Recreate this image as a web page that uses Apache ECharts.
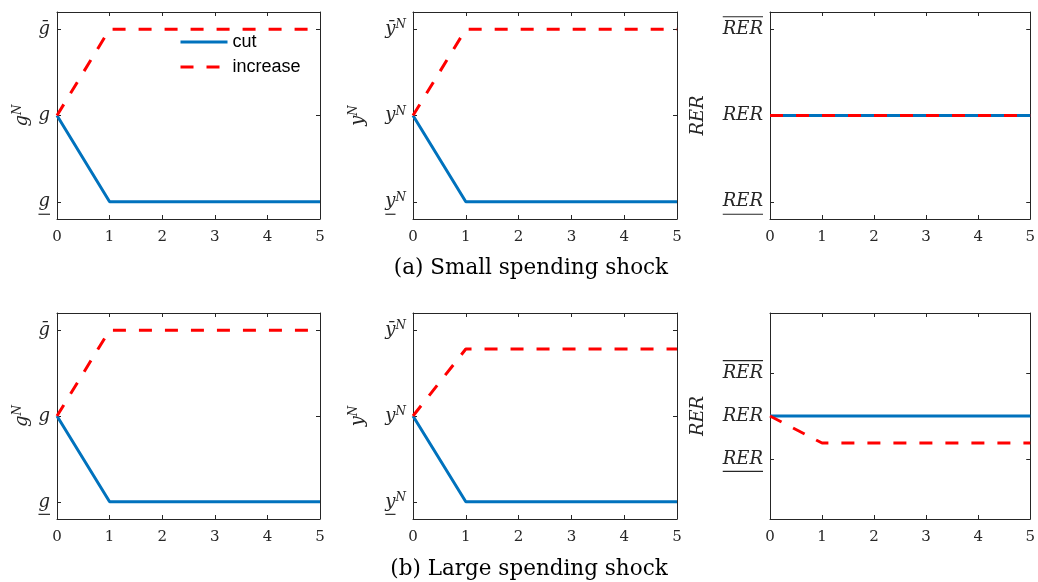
<!DOCTYPE html>
<html>
<head>
<meta charset="utf-8">
<script src="https://cdn.jsdelivr.net/npm/echarts@6/dist/echarts.min.js"></script>
<style>
html,body{margin:0;padding:0;background:#fff;}
#chart{width:1038px;height:582px;}
</style>
</head>
<body>
<div id="chart"></div>
<script>
// ---- data ----
const periods = [0, 1, 2, 3, 4, 5];
const tickValues = [-1, 0, 1];
// tick labels: [base text, superscript, decoration]
const gTickLabels = [['g', '', 'under'], ['g', '', ''], ['\u1E21', '', '']];
const yTickLabels = [['y', 'N', 'under'], ['y', 'N', ''], ['\u0233', 'N', '']];
const rerTickLabels = [['RER', '', 'under'], ['RER', '', ''], ['RER', '', 'over']];
const axisNames = [['g', 'N'], ['y', 'N'], ['RER', '']];
const seriesNames = ['cut', 'increase'];
const panelTitles = ['(a) Small spending shock', '(b) Large spending shock'];

// small shock
const smallCutG = [0, -1, -1, -1, -1, -1];
const smallIncG = [0, 1, 1, 1, 1, 1];
const smallCutY = [0, -1, -1, -1, -1, -1];
const smallIncY = [0, 1, 1, 1, 1, 1];
const smallCutRER = [0, 0, 0, 0, 0, 0];
const smallIncRER = [0, 0, 0, 0, 0, 0];
// large shock
const largeCutG = [0, -1, -1, -1, -1, -1];
const largeIncG = [0, 1, 1, 1, 1, 1];
const largeCutY = [0, -1, -1, -1, -1, -1];
const largeIncY = [0, 0.78, 0.78, 0.78, 0.78, 0.78];
const largeCutRER = [0, 0, 0, 0, 0, 0];
const largeIncRER = [0, -0.63, -0.63, -0.63, -0.63, -0.63];

// ---- styles / layout ----
const AX = '#262626';
const BLUE = '#0072BD';
const RED = '#FF0000';
const MATHFONT = 'DejaVu Serif';
const MAIN_SIZE = 18;
const SUP_SIZE = 12;
const BAR_LINE = 5;

const measureCtx = document.createElement('canvas').getContext('2d');
function textWidth(str, size) {
  measureCtx.font = 'italic ' + size + 'px "' + MATHFONT + '"';
  return measureCtx.measureText(str).width;
}
const rich = {
  t: {fontFamily: MATHFONT, fontStyle: 'italic', fontSize: MAIN_SIZE, lineHeight: 20, color: AX},
  s: {fontFamily: MATHFONT, fontStyle: 'italic', fontSize: SUP_SIZE, lineHeight: 9, verticalAlign: 'top', color: AX},
  sp: {height: 1, lineHeight: BAR_LINE}
};
let richCount = 0;
function mathLabel(spec) {
  const base = spec[0], sup = spec[1], deco = spec[2];
  const main = '{t|' + base + '}' + (sup ? '{s|' + sup + '}' : '');
  if (!deco) return main;
  const bw = textWidth(base, MAIN_SIZE);
  const sw = sup ? textWidth(sup, SUP_SIZE) : 0;
  const bk = 'bar' + (richCount++);
  rich[bk] = {width: bw, height: 1.2, lineHeight: BAR_LINE, backgroundColor: AX};
  let barLine = '{' + bk + '|}';
  if (sw > 0) {
    const gk = 'gap' + (richCount++);
    rich[gk] = {width: sw, height: 1, lineHeight: BAR_LINE};
    barLine += '{' + gk + '|}';
  }
  return deco === 'over' ? barLine + '\n' + main + '\n{sp|}' : '{sp|}\n' + main + '\n' + barLine;
}

const cols = [
  {left: 57, width: 263, labels: gTickLabels, name: axisNames[0], nameGap: 25},
  {left: 413, width: 264, labels: yTickLabels, name: axisNames[1], nameGap: 45},
  {left: 770, width: 263, labels: rerTickLabels, name: axisNames[2], nameGap: 62}
];
const rows = [
  {top: 12, height: 207, data: [[smallCutG, smallIncG], [smallCutY, smallIncY], [smallCutRER, smallIncRER]], ranges: [1.2, 1.2, 1.2]},
  {top: 313, height: 206, data: [[largeCutG, largeIncG], [largeCutY, largeIncY], [largeCutRER, largeIncRER]], ranges: [1.2, 1.2, 2.4]}
];

const grids = [], xAxes = [], yAxes = [], series = [];
const colLabelStrings = cols.map(col => col.labels.map(mathLabel));
const colNameStrings = cols.map(col => '{t|' + col.name[0] + '}' + (col.name[1] ? '{s|' + col.name[1] + '}' : ''));

rows.forEach((row, r) => {
  cols.forEach((col, c) => {
    const gi = grids.length;
    grids.push({left: col.left, top: row.top, width: col.width, height: row.height});
    const rng = row.ranges[c];
    xAxes.push({
      gridIndex: gi, type: 'value', min: 0, max: 5, interval: 1, position: 'bottom',
      axisLine: {show: true, onZero: false, lineStyle: {color: AX, width: 1}},
      axisTick: {show: true, inside: true, length: 4, lineStyle: {color: AX}},
      axisLabel: {show: true, margin: 11, color: AX, fontFamily: MATHFONT, fontSize: 15},
      splitLine: {show: false}
    });
    const xb = xAxes.length - 1;
    xAxes.push({
      gridIndex: gi, type: 'value', min: 0, max: 5, interval: 1, position: 'top',
      axisLine: {show: true, onZero: false, lineStyle: {color: AX, width: 1}},
      axisTick: {show: true, inside: true, length: 4, lineStyle: {color: AX}},
      axisLabel: {show: false}, splitLine: {show: false}
    });
    const labelStrings = colLabelStrings[c];
    yAxes.push({
      gridIndex: gi, type: 'value', min: -rng, max: rng, position: 'left',
      name: colNameStrings[c], nameLocation: 'middle', nameGap: col.nameGap, nameRotate: 90,
      nameTextStyle: {rich: rich},
      axisLine: {show: true, onZero: false, lineStyle: {color: AX, width: 1}},
      axisTick: {show: true, inside: true, length: 4, customValues: tickValues, lineStyle: {color: AX}},
      axisLabel: {
        show: true, margin: 7, customValues: tickValues, rich: rich,
        formatter: (v) => labelStrings[Math.round(v) + 1]
      },
      splitLine: {show: false}
    });
    const yl = yAxes.length - 1;
    yAxes.push({
      gridIndex: gi, type: 'value', min: -rng, max: rng, position: 'right',
      axisLine: {show: true, onZero: false, lineStyle: {color: AX, width: 1}},
      axisTick: {show: true, inside: true, length: 4, customValues: tickValues, lineStyle: {color: AX}},
      axisLabel: {show: false}, splitLine: {show: false}
    });
    const pair = row.data[c];
    series.push({
      name: seriesNames[0], type: 'line', xAxisIndex: xb, yAxisIndex: yl,
      data: periods.map((p, i) => [p, pair[0][i]]),
      symbol: 'none', lineStyle: {color: BLUE, width: 3, type: 'solid'}, itemStyle: {color: BLUE},
      z: 2
    });
    series.push({
      name: seriesNames[1], type: 'line', xAxisIndex: xb, yAxisIndex: yl,
      data: periods.map((p, i) => [p, pair[1][i]]),
      symbol: 'none', lineStyle: {color: RED, width: 3, type: [13, 13]}, itemStyle: {color: RED},
      z: 3
    });
  });
});

const option = {
  backgroundColor: '#ffffff',
  animation: false,
  title: [
    {text: panelTitles[0], left: 526, top: 252, textAlign: 'center',
     textStyle: {fontFamily: MATHFONT, fontWeight: 'normal', fontSize: 21.5, color: '#000'}},
    {text: panelTitles[1], left: 524, top: 553, textAlign: 'center',
     textStyle: {fontFamily: MATHFONT, fontWeight: 'normal', fontSize: 21.5, color: '#000'}}
  ],
  legend: {
    data: seriesNames, orient: 'vertical', left: 179, top: 33, padding: 0,
    itemWidth: 47, itemHeight: 14, itemGap: 7,
    itemStyle: {opacity: 0},
    lineStyle: {width: 3},
    textStyle: {fontFamily: 'Liberation Sans', fontSize: 18, color: '#000'}
  },
  grid: grids, xAxis: xAxes, yAxis: yAxes, series: series
};

const chart = echarts.init(document.getElementById('chart'), null, {renderer: 'canvas'});
chart.setOption(option);
</script>
</body>
</html>
